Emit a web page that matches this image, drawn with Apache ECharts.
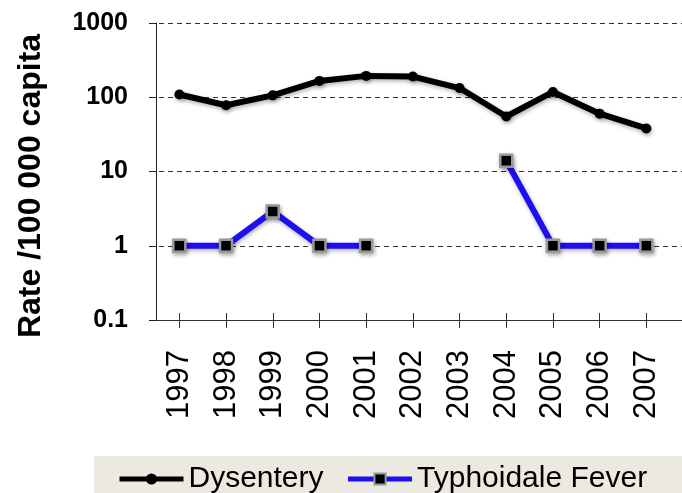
<!DOCTYPE html>
<html>
<head>
<meta charset="utf-8">
<script src="https://cdn.jsdelivr.net/npm/echarts@6/dist/echarts.min.js"></script>
<style>
html,body{margin:0;padding:0;background:#fff;}
#c{width:682px;height:493px;}
</style>
</head>
<body>
<div id="c"></div>
<script>
const years = ['1997','1998','1999','2000','2001','2002','2003','2004','2005','2006','2007'];
const dysentery = [109, 78, 106, 166, 194, 190, 133, 55, 118, 60, 38];
const typhoid = [1, 1, 2.9, 1, 1, null, null, 14, 1, 1, 1];
const yTicks = [0.1, 1, 10, 100, 1000];
const yTitle = 'Rate /100 000 capita';

const font = 'Liberation Sans, Arial, sans-serif';
const chart = echarts.init(document.getElementById('c'));
const shadow = {shadowBlur: 4, shadowColor: 'rgba(0,0,0,0.3)', shadowOffsetX: 1, shadowOffsetY: 2};

chart.setOption({
  animation: false,
  backgroundColor: '#fff',
  graphic: [
    {type: 'rect', left: 94, top: 456, shape: {width: 588, height: 37}, style: {fill: '#ECE9E0'}, z: -1},
    {type: 'text', x: 31, y: 186, rotation: Math.PI / 2,
     style: {text: yTitle, font: 'bold 32px ' + font, fill: '#000', textAlign: 'center', textVerticalAlign: 'middle'}}
  ],
  grid: [
    {left: 156, right: 12.3, top: 23, bottom: 173},
    {left: 150, right: 0, top: 23, bottom: 173}
  ],
  xAxis: [
    {type: 'category', gridIndex: 0, data: years, boundaryGap: true,
     axisLine: {show: false},
     axisTick: {show: true, alignWithLabel: true, inside: false, length: 8, lineStyle: {color: '#333', width: 1}},
     axisLabel: {rotate: 90, margin: 30, fontSize: 31, fontFamily: font, color: '#000'},
     splitLine: {show: false}},
    {type: 'category', gridIndex: 0, data: years, boundaryGap: true, position: 'bottom',
     axisLine: {show: false},
     axisTick: {show: true, alignWithLabel: true, inside: true, length: 7, lineStyle: {color: '#333', width: 1}},
     axisLabel: {show: false}, splitLine: {show: false}},
    {type: 'value', gridIndex: 1, min: 0, max: 1, show: true,
     axisLine: {show: true, onZero: false, lineStyle: {color: '#333', width: 1}},
     axisTick: {show: false}, axisLabel: {show: false}, splitLine: {show: false}}
  ],
  yAxis: [
    {type: 'log', gridIndex: 0, logBase: 10, min: yTicks[0], max: yTicks[yTicks.length - 1],
     axisLine: {show: true, lineStyle: {color: '#222', width: 1}},
     axisTick: {show: true, inside: false, length: 7, lineStyle: {color: '#222'}},
     axisLabel: {margin: 28, fontSize: 25, fontWeight: 'bold', fontFamily: font, color: '#000',
       formatter: v => String(v)},
     splitLine: {show: false}},
    {type: 'log', gridIndex: 1, logBase: 10, min: yTicks[0], max: yTicks[yTicks.length - 1],
     axisLine: {show: false}, axisTick: {show: false}, axisLabel: {show: false},
     splitLine: {show: true, lineStyle: {color: '#333', width: 1, type: [5, 4]}}}
  ],
  legend: {
    left: 112, top: 459, itemWidth: 64, itemHeight: 14, itemGap: 22,
    textStyle: {fontSize: 30, fontFamily: font, color: '#000', padding: [0, 0, 0, 0]},
    lineStyle: {width: 5},
    data: ['Dysentery', 'Typhoidale Fever']
  },
  series: [
    {name: 'Dysentery', type: 'line', xAxisIndex: 0, yAxisIndex: 0, data: dysentery,
     symbol: 'circle', symbolSize: 10,
     lineStyle: Object.assign({color: '#000', width: 6}, shadow),
     itemStyle: Object.assign({color: '#000'}, shadow), z: 3},
    {name: 'Typhoidale Fever', type: 'line', xAxisIndex: 0, yAxisIndex: 0, data: typhoid,
     symbol: 'rect', symbolSize: 12, connectNulls: false,
     lineStyle: Object.assign({color: '#1E0EF0', width: 6}, shadow),
     itemStyle: Object.assign({color: '#000', borderColor: '#999', borderWidth: 2.5}, shadow), z: 2}
  ]
});
</script>
</body>
</html>
